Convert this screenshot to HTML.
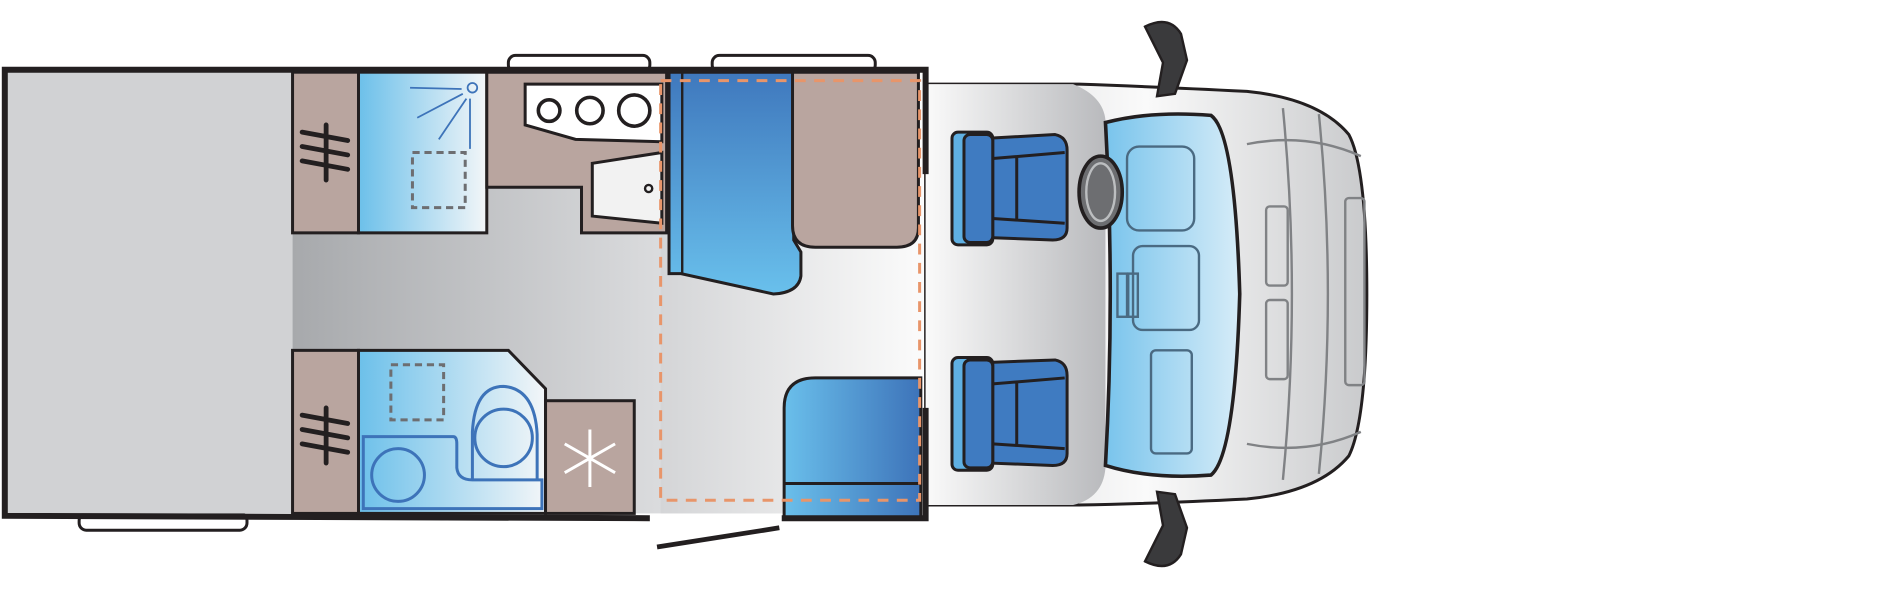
<!DOCTYPE html>
<html><head><meta charset="utf-8"><style>html,body{margin:0;padding:0;background:#fff}svg{display:block}</style></head>
<body>
<svg width="1880" height="600" viewBox="0 0 1568 500" xmlns="http://www.w3.org/2000/svg">
<defs>
<linearGradient id="aisle" x1="0" x2="1" y1="0" y2="0"><stop offset="0" stop-color="#a7a9ac"/><stop offset="0.6" stop-color="#dcdddf"/><stop offset="1" stop-color="#fafafa"/></linearGradient>
<linearGradient id="living" x1="0" x2="1"><stop offset="0" stop-color="#d4d5d7"/><stop offset="1" stop-color="#fbfbfb"/></linearGradient>
<linearGradient id="cab" x1="0" x2="1"><stop offset="0" stop-color="#fafafa"/><stop offset="1" stop-color="#b9babd"/></linearGradient>
<linearGradient id="nose" x1="0" x2="1"><stop offset="0" stop-color="#d9dadc"/><stop offset="0.5" stop-color="#fafafa"/><stop offset="1" stop-color="#c9cacc"/></linearGradient>
<linearGradient id="shower" x1="0" x2="1"><stop offset="0" stop-color="#6cc0ea"/><stop offset="1" stop-color="#f3f6f8"/></linearGradient>
<linearGradient id="bseat" x1="0" x2="0" y1="0" y2="1"><stop offset="0" stop-color="#3f78bd"/><stop offset="1" stop-color="#69c0ec"/></linearGradient>
<linearGradient id="bench" x1="0" x2="1"><stop offset="0" stop-color="#6abfeb"/><stop offset="1" stop-color="#3d73b9"/></linearGradient>
<linearGradient id="wind" x1="0" x2="1"><stop offset="0" stop-color="#79c4ec"/><stop offset="1" stop-color="#d6ecf8"/></linearGradient>
</defs>
<!-- windows -->
<rect x="424" y="46" width="118" height="14" rx="6" fill="#fff" stroke="#231f20" stroke-width="2.5"/>
<rect x="594" y="46" width="136" height="14" rx="6" fill="#fff" stroke="#231f20" stroke-width="2.5"/>
<rect x="66" y="428" width="140" height="14" rx="6" fill="#fff" stroke="#231f20" stroke-width="2.5"/>
<!-- cab body -->
<path d="M772 70 L900 70 Q960 72 1040 76 Q1100 82 1125 112 Q1140 140 1140 245 Q1140 350 1125 380 Q1100 410 1040 416 Q960 420 900 421 L772 421 Z" fill="url(#nose)" stroke="#231f20" stroke-width="2.5"/>
<path d="M772 70 L895 70 Q920 80 922 100 L922 390 Q920 415 895 421 L772 421 Z" fill="url(#cab)"/>
<!-- mirrors -->
<path d="M955 22 Q975 12 985 28 L990 50 L980 78 L965 80 L970 52 Z" fill="#3a3a3c" stroke="#231f20" stroke-width="2"/>
<path d="M955 468 Q975 478 985 462 L990 440 L980 412 L965 410 L970 438 Z" fill="#3a3a3c" stroke="#231f20" stroke-width="2"/>
<!-- windscreen -->
<path d="M922 102 Q960 92 1010 96 Q1030 110 1034 245 Q1030 380 1010 396 Q960 400 922 388 Q930 245 922 102Z" fill="url(#wind)" stroke="#231f20" stroke-width="3"/>
<g fill="none" stroke="#4a6a82" stroke-width="2">
<rect x="940" y="122" width="56" height="70" rx="10"/><rect x="945" y="205" width="55" height="70" rx="8"/><rect x="960" y="292" width="34" height="86" rx="4"/>
<rect x="932" y="228" width="8" height="36"/><rect x="941" y="228" width="8" height="36"/>
</g>
<g fill="none" stroke="#808285" stroke-width="2">
<path d="M1040 120 Q1090 110 1135 130"/><path d="M1040 370 Q1090 380 1135 360"/>
<path d="M1070 90 Q1085 245 1070 400"/><path d="M1100 95 Q1115 245 1100 395"/>
<rect x="1056" y="172" width="18" height="66" rx="3"/><rect x="1056" y="250" width="18" height="66" rx="3"/>
<rect x="1122" y="165" width="16" height="156" rx="3"/>
</g>
<!-- steering wheel -->
<ellipse cx="918" cy="160" rx="18" ry="30" fill="#6d6e71" stroke="#231f20" stroke-width="3"/>
<ellipse cx="918" cy="160" rx="12" ry="24" fill="none" stroke="#bcbec0" stroke-width="2"/>
<!-- cab seats -->
<g stroke="#231f20" stroke-width="2.5">
<path d="M826 115 L880 112 Q890 114 890 125 L890 190 Q890 200 878 200 L826 198 Z" fill="#3f7bc1"/>
<rect x="794" y="110" width="34" height="94" rx="5" fill="#5fb0e3"/><rect x="804" y="112" width="24" height="90" rx="5" fill="#3f7bc1"/>
<path d="M826 302 L880 300 Q890 302 890 313 L890 378 Q890 388 878 388 L826 386 Z" fill="#3f7bc1"/>
<rect x="794" y="298" width="34" height="94" rx="5" fill="#5fb0e3"/><rect x="804" y="300" width="24" height="90" rx="5" fill="#3f7bc1"/>
<path d="M828 132 L888 127 M828 182 L888 186 M848 130 L848 184 M828 320 L888 315 M828 370 L888 374 M848 318 L848 372" fill="none"/>
</g>
<!-- camper body -->
<rect x="6" y="60" width="238" height="368" fill="#d1d2d4"/>
<rect x="244" y="60" width="526" height="368" fill="url(#aisle)"/>
<rect x="551" y="60" width="219" height="368" fill="url(#living)"/>
<rect x="244" y="60" width="55" height="134" fill="#b9a59f" stroke="#231f20" stroke-width="2.5"/>
<rect x="244" y="292" width="55" height="136" fill="#b9a59f" stroke="#231f20" stroke-width="2.5"/>
<rect x="299" y="60" width="107" height="134" fill="url(#shower)" stroke="#231f20" stroke-width="2.5"/>
<path d="M406 60 L556 60 L556 194 L485 194 L485 156 L406 156 Z" fill="#b9a59f" stroke="#231f20" stroke-width="2.5"/>
<path d="M299 292 L424 292 L455 324 L455 428 L299 428 Z" fill="url(#shower)" stroke="#231f20" stroke-width="2.5"/>
<rect x="455" y="334" width="74" height="94" fill="#b9a59f" stroke="#231f20" stroke-width="2.5"/>
<!-- kitchen -->
<path d="M438 70 L552 70 L552 118 L480 116 L438 104Z" fill="#fff" stroke="#231f20" stroke-width="2.5"/>
<g fill="none" stroke="#231f20" stroke-width="3"><circle cx="458" cy="92" r="9"/><circle cx="492" cy="92" r="11"/><circle cx="529" cy="92" r="13"/></g>
<path d="M494 136 L552 127 L552 186 L494 180Z" fill="#f2f2f2" stroke="#231f20" stroke-width="2.5"/>
<circle cx="541" cy="157" r="3" fill="none" stroke="#231f20" stroke-width="2"/>
<!-- shower details -->
<rect x="344" y="127" width="44" height="46" fill="none" stroke="#6d6e71" stroke-width="2.5" stroke-dasharray="6,4"/>
<g stroke="#3d73b9" stroke-width="1.5" fill="none"><circle cx="394" cy="73" r="4"/><path d="M342 73 L385 74 M348 98 L386 78 M366 116 L389 82 M392 124 L392 82"/></g>
<!-- bathroom -->
<rect x="326" y="304" width="44" height="46" fill="none" stroke="#6d6e71" stroke-width="2.5" stroke-dasharray="6,4"/>
<path d="M303 364 L378 364 Q381 364 381 370 L381 390 Q382 400 394 400 L452 400 L452 424 L303 424 Z" fill="none" stroke="#3d73b9" stroke-width="2.5"/>
<circle cx="332" cy="396" r="22" fill="none" stroke="#3d73b9" stroke-width="2.5"/>
<path d="M394 400 L394 360 Q396 322 420 322 Q446 324 448 362 L448 400" fill="none" stroke="#3d73b9" stroke-width="2.5"/>
<circle cx="420" cy="365" r="24" fill="none" stroke="#3d73b9" stroke-width="2.5"/>
<!-- snowflake -->
<g stroke="#fff" stroke-width="2.5" fill="none"><path d="M492 358 L492 406 M471 370 L513 394 M471 394 L513 370"/></g>
<text x="492" y="390" font-family="Liberation Sans,sans-serif" font-size="1" fill="#fff">.</text>
<!-- wardrobe hanger marks -->
<g stroke="#231f20" stroke-width="4" stroke-linecap="round"><path d="M252 110 L290 117 M252 122 L290 129 M252 134 L290 141 M272 104 L272 150"/><path d="M252 346 L290 353 M252 358 L290 365 M252 370 L290 377 M272 340 L272 386"/></g>
<!-- seating -->
<path d="M558 60 L662 60 L662 200 L668 210 L668 230 Q666 244 645 245 L568 228 L558 228 Z" fill="url(#bseat)" stroke="#231f20" stroke-width="2.5"/>
<line x1="569" y1="60" x2="569" y2="228" stroke="#231f20" stroke-width="2"/>
<path d="M661 60 L766 60 L766 190 Q766 206 748 206 L680 206 Q661 206 661 188 Z" fill="#b9a59f" stroke="#231f20" stroke-width="2.5"/>
<path d="M654 432 L654 340 Q654 315 680 315 L768 315 L768 432 Z" fill="url(#bench)" stroke="#231f20" stroke-width="2.5"/>
<line x1="654" y1="403" x2="768" y2="403" stroke="#231f20" stroke-width="2.5"/>
<rect x="551" y="67" width="216" height="350" fill="none" stroke="#e8956a" stroke-width="2.5" stroke-dasharray="9,7"/>
<!-- outer walls -->
<path d="M542 432 L4 430 L4 58 L772 58 L772 145 M772 340 L772 432 L652 432" fill="none" stroke="#231f20" stroke-width="5"/>
<line x1="548" y1="456" x2="650" y2="440" stroke="#231f20" stroke-width="4"/>
</svg>
</body></html>
